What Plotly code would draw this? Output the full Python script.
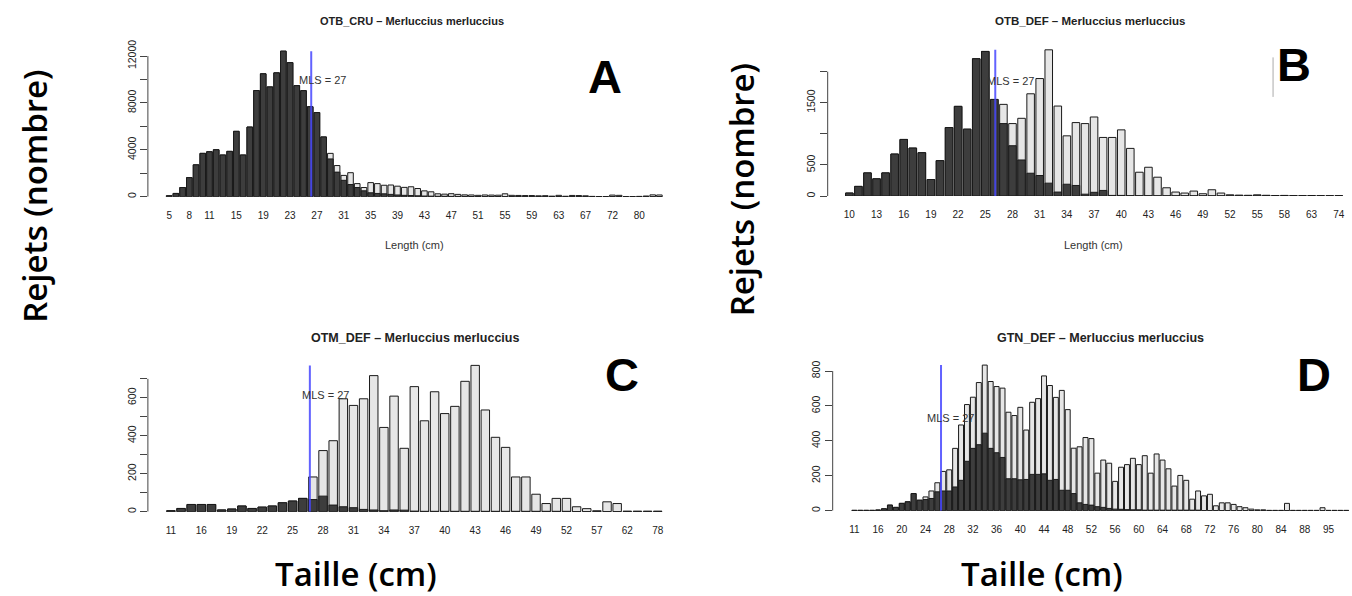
import plotly.graph_objects as go

W, H = 1352, 596

# ---------------- DATA ----------------
MLS = 27

A_len = list(range(5, 71)) + [72, 73, 75, 77, 80, 81, 84, 86]
A_total = [84, 280, 785, 1630, 2720, 3700, 3840, 4010, 3560, 3870, 5580, 3560, 5945, 9060,
           10490, 9370, 10570, 12420, 11440, 9480, 9050, 7680, 7180, 5100, 3700, 2660, 1820,
           2050, 1120, 785, 1205, 1120, 980, 1000, 900, 800, 850, 700, 500, 420, 250, 220, 260,
           200, 160, 150, 120, 150, 140, 130, 250, 120, 110, 100, 100, 80, 90, 50, 120, 40, 110,
           100, 80, 30, 20, 20, 140, 120, 20, 20, 30, 60, 160, 150]
A_dark = [84, 280, 785, 1630, 2720, 3700, 3840, 4010, 3560, 3870, 5580, 3560, 5945, 9060,
          10490, 9370, 10570, 12420, 11440, 9480, 9050, 7680, 7180, 5100, 3225, 2100, 1400,
          1040, 785, 505, 336, 280, 250, 200, 150, 120, 100, 80, 60, 50, 40, 40, 30, 30, 30, 20,
          10, 10, 10, 10, 10, 10, 10, 10, 10, 10, 10, 10, 10, 10, 10, 10, 10, 10, 10, 10,
          10, 10, 0, 0, 0, 10, 0, 20]
A_yticks = [0, 2000, 4000, 6000, 8000, 10000, 12000]
A_ytext = ["0", "", "4000", "", "8000", "", "12000"]
A_xticks = [5, 8, 11, 15, 19, 23, 27, 31, 35, 39, 43, 47, 51, 55, 59, 63, 67, 72, 80]

B_len = list(range(10, 59)) + [59, 61, 63, 66, 70, 74]
B_total = [48, 155, 372, 277, 372, 675, 910, 771, 697, 266, 569, 1101, 1442, 1075, 2208, 2325,
           1553, 1474, 1165, 1250, 1644, 1889, 2351, 1447, 968, 1181, 1165, 1271, 942, 942, 1064,
           766, 383, 463, 303, 133, 64, 48, 80, 37, 101, 48, 20, 15, 12, 20, 12, 8, 10,
           6, 5, 8, 5, 4, 6]
B_dark = [48, 155, 372, 277, 372, 675, 910, 771, 697, 266, 569, 1101, 1442, 1075, 2208, 2325,
          1553, 1165, 809, 580, 367, 330, 207, 64, 190, 170, 30, 60, 90, 10, 10,
          5, 3, 3, 2, 2, 2, 2, 2, 2, 2, 2, 2, 2, 2, 2, 2, 2, 2,
          2, 2, 2, 2, 2, 2]
B_yticks = [0, 500, 1000, 1500, 2000]
B_ytext = ["0", "500", "", "1500", ""]
B_xticks = [10, 13, 16, 19, 22, 25, 28, 31, 34, 37, 40, 43, 46, 49, 52, 55, 58, 63, 74]

C_len = [11, 13, 14] + list(range(16, 53)) + [54, 55, 57, 58, 60, 62, 65, 70, 78]
C_total = [5, 17, 38, 38, 38, 9, 14, 30, 17, 24, 30, 47, 56, 70, 183, 322, 374, 595, 560, 595,
           717, 444, 609, 334, 659, 479, 632, 517, 555, 687, 771, 536, 392, 339, 183, 183, 92,
           43, 70, 70, 26, 16, 5, 52, 43, 3, 3, 3, 3]
C_dark = [5, 17, 38, 38, 38, 9, 14, 30, 17, 24, 30, 47, 56, 70, 64, 82, 35, 26, 21, 12,
          9, 5, 9, 8, 3, 2, 2, 2, 2, 2, 2, 2, 2, 2, 2, 2, 2,
          2, 2, 2, 0, 0, 0, 0, 0, 0, 0, 0, 0]
C_yticks = [0, 100, 200, 300, 400, 500, 600, 700]
C_ytext = ["0", "", "200", "", "400", "", "600", ""]
C_xticks = [11, 16, 19, 22, 25, 28, 31, 34, 37, 40, 43, 46, 49, 52, 57, 62, 78]

D_len = [11, 13, 14, 15] + list(range(16, 89)) + [90, 92, 93, 95, 96, 98, 101]
D_total = [2, 2, 2, 2, 4, 11, 32, 19, 42, 51, 98, 60, 79, 113, 160, 225, 234, 357, 491, 608,
           650, 734, 834, 740, 711, 702, 564, 545, 592, 462, 621, 642, 772, 717, 649, 689, 579,
           358, 366, 419, 413, 215, 290, 272, 168, 249, 264, 300, 264, 315, 215, 325, 290, 240,
           141, 202, 174, 66, 113, 85, 94, 28, 45, 45, 36, 23, 17, 9, 5, 5, 2, 2, 2, 42, 2, 2,
           2, 2, 2, 17, 2, 2, 2, 2]
D_dark = [2, 2, 2, 2, 4, 11, 32, 19, 42, 51, 98, 60, 64, 70, 108, 113, 113, 136, 174, 283,
          357, 378, 444, 357, 332, 305, 183, 183, 177, 179, 208, 208, 211, 174, 179, 117, 117,
          98, 45, 36, 32, 23, 19, 13, 9, 8, 6, 5, 5, 3, 3, 3, 3, 3, 3,
          3, 3, 3, 3, 0, 0, 0, 0, 0, 0, 0, 0, 0, 0, 0, 0, 0, 0, 0, 0, 0,
          0, 0, 0, 0, 0, 0, 0, 0]
D_yticks = [0, 200, 400, 600, 800]
D_ytext = ["0", "200", "400", "600", "800"]
D_xticks = [11, 16, 20, 24, 28, 32, 36, 40, 44, 48, 52, 56, 60, 64, 68, 72, 76, 80, 84, 88, 95]

titles = ["OTB_CRU \u2013 Merluccius merluccius", "OTB_DEF \u2013 Merluccius merluccius",
          "OTM_DEF \u2013 Merluccius merluccius", "GTN_DEF \u2013 Merluccius merluccius"]
letters = ["A", "B", "C", "D"]

# ---------------- LAYOUT (pixel geometry) ----------------
def px(x):
    return x / W

def py(y):
    return 1 - y / H

panels = [
    dict(len=A_len, tot=A_total, dark=A_dark, yt=A_yticks, ytx=A_ytext, xt=A_xticks,
         xd=(148, 663.3), yd=(40, 193), yr=12900, xr0=-3.17, mls_off=-0.85, txt_off=0.87, txt_frac=0.80,
         title_xy=(412, 15), title_size=11, letter_xy=(605, 71), xlab=(415, 242)),
    dict(len=B_len, tot=B_total, dark=B_dark, yt=B_yticks, ytx=B_ytext, xt=B_xticks,
         xd=(828.3, 1344.3), yd=(40, 192.3), yr=2420, xr0=-2.39, mls_off=-0.9, txt_off=0.75, txt_frac=0.785,
         title_xy=(1091, 15), title_size=11.5, letter_xy=(1295, 59), xlab=(1094, 242)),
    dict(len=C_len, tot=C_total, dark=C_dark, yt=C_yticks, ytx=C_ytext, xt=C_xticks,
         xd=(148, 663.3), yd=(360, 511.7), yr=790, xr0=-2.27, mls_off=-0.3, txt_off=1.27, txt_frac=0.80,
         title_xy=(415, 336), title_size=12.5, letter_xy=(622, 373), xlab=None),
    dict(len=D_len, tot=D_total, dark=D_dark, yt=D_yticks, ytx=D_ytext, xt=D_xticks,
         xd=(833.3, 1350.2), yd=(360, 510.7), yr=853, xr0=-3.66, mls_off=-0.38, txt_off=1.19, txt_frac=0.635,
         title_xy=(1101, 336), title_size=12.5, letter_xy=(1315, 373), xlab=None),
]

LIGHT = "#e6e6e6"
DARK = "#3d3d3d"
EDGE = "#1a1a1a"
FONT = "Liberation Sans, Arial, sans-serif"

fig = go.Figure()
shapes = []
annotations = []
layout_axes = {}


def note(x, y, text, font, xref="paper", yref="paper", **kw):
    d = dict(xref=xref, yref=yref, x=x, y=y, text=text, showarrow=False,
             xanchor="center", yanchor="middle", font=font)
    d.update(kw)
    annotations.append(d)


for i, p in enumerate(panels):
    n = "" if i == 0 else str(i + 1)
    xa, ya = "x" + n, "y" + n
    cats = [str(v) for v in p["len"]]
    fig.add_trace(go.Bar(x=cats, y=p["tot"], xaxis=xa, yaxis=ya, marker=dict(color=LIGHT, line=dict(color=EDGE, width=1)),
                         showlegend=False, hoverinfo="x+y"))
    fig.add_trace(go.Bar(x=cats, y=p["dark"], xaxis=xa, yaxis=ya, marker=dict(color=DARK, line=dict(color=EDGE, width=1)),
                         showlegend=False, hoverinfo="x+y"))
    layout_axes["xaxis" + n] = dict(
        domain=[px(p["xd"][0]), px(p["xd"][1])], anchor=ya, type="category",
        categoryorder="array", categoryarray=cats,
        range=[p["xr0"], len(cats) - 0.5],
        tickvals=[str(v) for v in p["xt"]], ticktext=[str(v) for v in p["xt"]],
        ticks="outside", ticklen=9, tickcolor="rgba(0,0,0,0)",
        showline=False, showgrid=False, zeroline=False,
        tickfont=dict(family=FONT, size=10, color="#222"), fixedrange=True)
    layout_axes["yaxis" + n] = dict(
        domain=[py(p["yd"][1]), py(p["yd"][0])], anchor=xa,
        range=[0, p["yr"]], tickvals=p["yt"], ticktext=p["ytx"], tickangle=-90,
        ticks="outside", ticklen=7, tickcolor="#444", tickwidth=1,
        showline=False, showgrid=False, zeroline=False,
        tickfont=dict(family=FONT, size=10.5, color="#222"), fixedrange=True)
    # R-style y axis line spanning the tick range only
    shapes.append(dict(type="line", xref=xa + " domain", yref=ya, x0=0, x1=0,
                       y0=p["yt"][0], y1=p["yt"][-1], line=dict(color="#444", width=1)))
    # MLS line
    k = cats.index(str(MLS))
    shapes.append(dict(type="line", xref=xa, yref=ya, x0=k + p["mls_off"], x1=k + p["mls_off"],
                       y0=0, y1=max(p["tot"]), line=dict(color="rgba(70,70,255,0.85)", width=2)))
    note(k + p["txt_off"], p["txt_frac"] * max(p["tot"]), "MLS = %d" % MLS,
         dict(family=FONT, size=11, color="#333"), xref=xa, yref=ya)
    note(px(p["title_xy"][0]), py(p["title_xy"][1]), "<b>%s</b>" % titles[i],
         dict(family=FONT, size=p["title_size"], color="#222"))
    note(px(p["letter_xy"][0]), py(p["letter_xy"][1]), "<b>%s</b>" % letters[i],
         dict(family=FONT, size=47, color="#000"))
    if p["xlab"] is not None:
        note(px(p["xlab"][0]), py(p["xlab"][1]), "Length (cm)", dict(family=FONT, size=11, color="#333"))

# faint artefact line in panel B
shapes.append(dict(type="line", xref="paper", yref="paper", x0=px(1274), x1=px(1274), y0=py(52), y1=py(92),
                   line=dict(color="#aaaaaa", width=1)))

BIG = dict(family="Open Sans, Liberation Sans, sans-serif", size=33, color="#000", weight=600)
for (x, y) in [(35, 192), (742, 186)]:
    note(px(x), py(y), "Rejets (nombre)", BIG, textangle=-90)
for (x, y) in [(356, 574), (1043, 574)]:
    note(px(x), py(y), "Taille (cm)", BIG)

fig.update_layout(
    width=W, height=H, margin=dict(l=0, r=0, t=0, b=0),
    paper_bgcolor="white", plot_bgcolor="white",
    barmode="overlay", bargap=0.167,
    shapes=shapes, annotations=annotations, showlegend=False,
    **layout_axes)

fig.write_html("out.html", config={"displayModeBar": False},
               post_script="document.body.style.margin='0';document.body.style.overflow='hidden';")
